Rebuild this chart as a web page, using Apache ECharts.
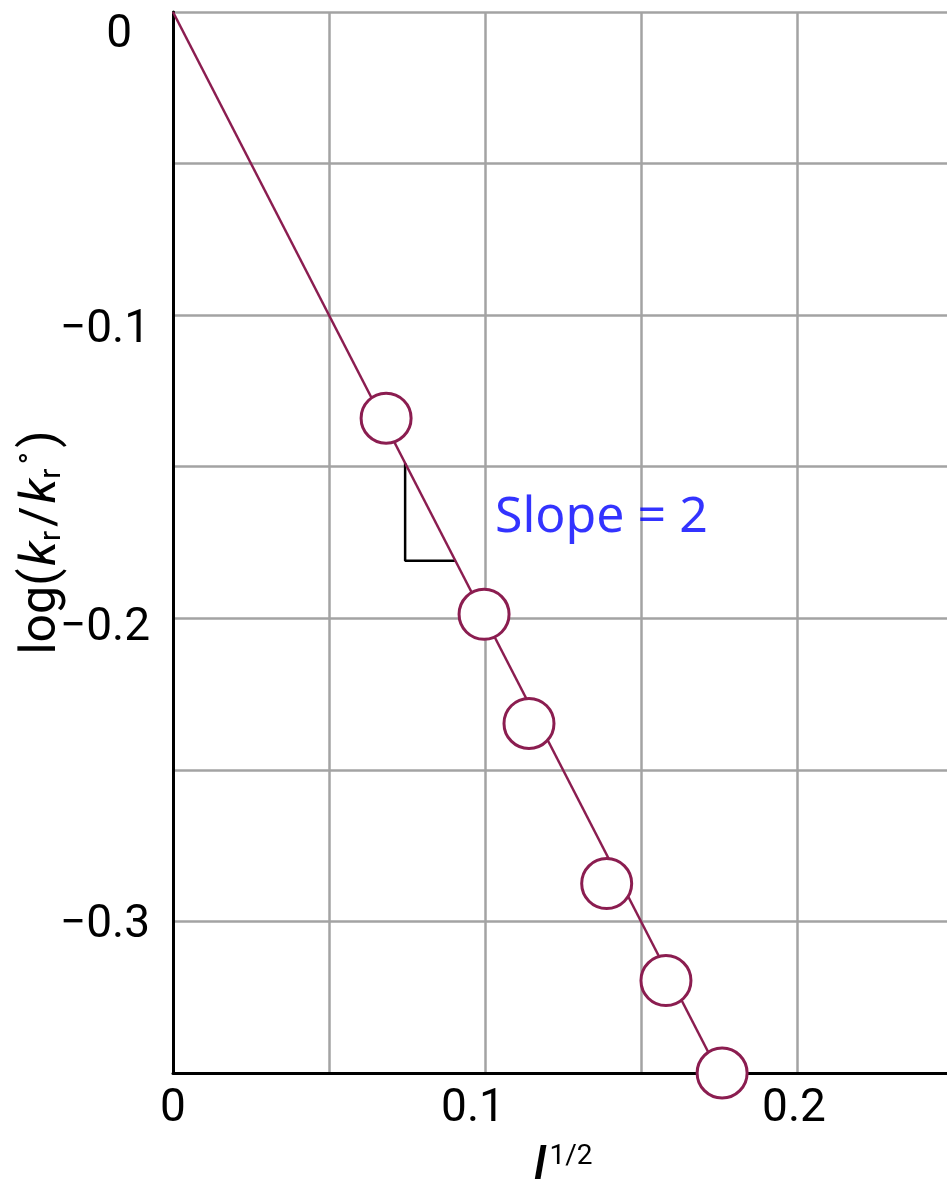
<!DOCTYPE html>
<html>
<head>
<meta charset="utf-8">
<script src="https://cdn.jsdelivr.net/npm/echarts@6/dist/echarts.min.js"></script>
<style>
  html, body { margin: 0; padding: 0; background: #fff; }
  #chart { width: 947px; height: 1184px; }
</style>
</head>
<body>
<div id="chart"></div>
<script>
// Measured points: square root of ionic strength vs log(kr/kr°)
const sqrtI = [0.0683, 0.0997, 0.1141, 0.1390, 0.1580, 0.1760];
const logRatio = [-0.134, -0.1987, -0.2347, -0.2875, -0.3195, -0.3500];

// Straight line of slope 2 (drawn downward here) through the origin
const fitLine = [[0, 0], [0.175, -0.35]];

// Small right-angle guide showing the slope
const slopeGuide = [[0.0744, -0.1488], [0.0744, -0.181], [0.0905, -0.181]];

// Tick labels (only every other grid line carries a label)
const xTickLabels = ['0', '0.1', '0.2'];
const yTickLabels = ['0', '\u22120.1', '\u22120.2', '\u22120.3'];

const INK = '#8b1d50';
const FONT = 'Roboto, "Liberation Sans", sans-serif';

const chart = echarts.init(document.getElementById('chart'), null, { renderer: 'canvas' });

chart.setOption({
  backgroundColor: '#ffffff',
  animation: false,
  grid: {
    left: 173, top: 12, right: -6, bottom: 111,
    outerBoundsMode: 'none'
  },
  xAxis: {
    type: 'value',
    min: 0, max: 0.25, interval: 0.05,
    axisLine: { show: true, onZero: false, lineStyle: { color: '#000', width: 3 } },
    axisTick: { show: false },
    splitLine: { show: true, lineStyle: { color: '#a3a3a3', width: 2.5 } },
    axisLabel: {
      margin: 13,
      fontFamily: FONT, fontSize: 46, color: '#000',
      showMinLabel: true, showMaxLabel: false,
      formatter: function (v) {
        const k = Math.round(v * 20);
        if (k % 2 !== 0) return '';
        const i = k / 2;
        if (i >= xTickLabels.length) return '';
        return '{x' + i + '|' + xTickLabels[i] + '}';
      },
      rich: {
        x0: {},
        x1: { padding: [0, 24, 0, 0] },
        x2: { padding: [0, 6, 0, 0] }
      }
    },
    name: '{i|I}{sup|1/2}',
    nameLocation: 'middle',
    nameGap: 70,
    nameMoveOverlap: false,
    nameTextStyle: {
      fontFamily: FONT, fontSize: 46, color: '#000',
      rich: {
        i: { fontFamily: FONT, fontSize: 48, fontStyle: 'italic', fontWeight: 500, color: '#000', padding: [0, 3, 0, 0] },
        sup: { fontFamily: FONT, fontSize: 28, color: '#000', verticalAlign: 'top' }
      }
    }
  },
  yAxis: {
    type: 'value',
    min: -0.35, max: 0, interval: 0.05,
    axisLine: { show: true, onZero: false, lineStyle: { color: '#000', width: 3 } },
    axisTick: { show: false },
    splitLine: { show: true, lineStyle: { color: '#a3a3a3', width: 2.5 } },
    axisLabel: {
      margin: 23,
      fontFamily: FONT, fontSize: 46, color: '#000',
      showMinLabel: true, showMaxLabel: true,
      formatter: function (v) {
        const k = Math.round(-v * 20);
        if (k % 2 !== 0) return '';
        const i = k / 2;
        if (i >= yTickLabels.length) return '';
        return '{y' + i + '|' + yTickLabels[i] + '}';
      },
      rich: {
        y0: { padding: [46, 18, 0, 0] },
        y1: { padding: [30, 0, 0, 0] },
        y2: { padding: [20, 0, 0, 0] },
        y3: { padding: [8, 0, 0, 0] }
      }
    },
    name: '{n|log(}{i|k}{sub|r}{n|/}{i|k}{sub|r}{sup|\u00b0}{n|)}',
    nameLocation: 'middle',
    nameRotate: 90,
    nameGap: 106,
    nameMoveOverlap: false,
    nameTextStyle: {
      fontFamily: FONT, fontSize: 50, color: '#000',
      rich: {
        n: { fontFamily: FONT, fontSize: 50, color: '#000' },
        i: { fontFamily: FONT, fontSize: 50, fontStyle: 'italic', color: '#000', padding: [0, 0, 0, 3] },
        sub: { fontFamily: FONT, fontSize: 30, color: '#000', verticalAlign: 'bottom', padding: [0, 4, 0, 0] },
        sup: { fontFamily: FONT, fontSize: 34, color: '#000', verticalAlign: 'top', padding: [0, 4, 0, 0] }
      }
    }
  },
  series: [
    {
      type: 'line',
      data: slopeGuide,
      symbol: 'none',
      lineStyle: { color: '#000', width: 2.5 },
      z: 3,
      silent: true
    },
    {
      type: 'line',
      data: fitLine,
      symbol: 'none',
      clip: false,
      lineStyle: { color: INK, width: 2.5 },
      z: 4,
      silent: true
    },
    {
      type: 'scatter',
      data: sqrtI.map((x, i) => [x, logRatio[i]]),
      symbol: 'circle',
      symbolSize: 50,
      clip: false,
      itemStyle: { color: '#ffffff', borderColor: INK, borderWidth: 3, opacity: 1 },
      z: 5
    },
    {
      type: 'scatter',
      data: [[0.1032, -0.1667]],
      symbolSize: 0,
      silent: true,
      z: 6,
      label: {
        show: true,
        position: 'right',
        distance: 0,
        formatter: 'Slope = 2',
        fontFamily: '"Noto Sans", "Open Sans", sans-serif',
        fontSize: 50,
        color: '#0000ff'
      }
    }
  ]
});
</script>
</body>
</html>
